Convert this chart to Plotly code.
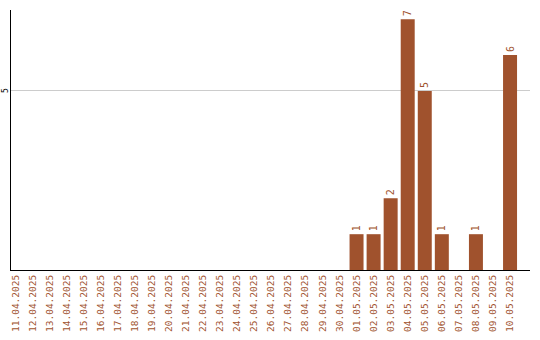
import plotly.graph_objects as go

dates = ["11.04.2025", "12.04.2025", "13.04.2025", "14.04.2025", "15.04.2025",
         "16.04.2025", "17.04.2025", "18.04.2025", "19.04.2025", "20.04.2025",
         "21.04.2025", "22.04.2025", "23.04.2025", "24.04.2025", "25.04.2025",
         "26.04.2025", "27.04.2025", "28.04.2025", "29.04.2025", "30.04.2025",
         "01.05.2025", "02.05.2025", "03.05.2025", "04.05.2025", "05.05.2025",
         "06.05.2025", "07.05.2025", "08.05.2025", "09.05.2025", "10.05.2025"]
counts = [0, 0, 0, 0, 0, 0, 0, 0, 0, 0,
          0, 0, 0, 0, 0, 0, 0, 0, 0, 0,
          1, 1, 2, 7, 5, 1, 0, 1, 0, 6]
y_ticks = [5]

labels = [str(v) if v > 0 else "" for v in counts]
color = "#A0522D"
font = "DejaVu Sans Mono"

fig = go.Figure(go.Bar(
    x=dates, y=counts, text=labels, textposition="outside", textangle=-90,
    textfont=dict(family=font, size=10, color=color),
    marker=dict(color=color, line=dict(width=0)), cliponaxis=False,
))

fig.update_layout(
    width=540, height=340,
    margin=dict(l=11, r=10, t=10, b=70, autoexpand=False),
    paper_bgcolor="white", plot_bgcolor="white",
    bargap=0.18, showlegend=False,
    font=dict(family=font),
)
fig.update_xaxes(
    type="category", range=[-0.26, 30.17], tickangle=-90, automargin=False,
    tickfont=dict(family=font, size=9.5, color=color),
    showline=True, linecolor="black", linewidth=1, showgrid=False,
    ticks="", ticklen=0,
)
fig.update_yaxes(
    range=[0, 7.26], tickvals=y_ticks, showticklabels=False, automargin=False,
    showline=True, linecolor="black", linewidth=1,
    showgrid=True, gridcolor="#cccccc", gridwidth=1, zeroline=False,
    ticks="", ticklen=0,
)
for t in y_ticks:
    fig.add_annotation(
        x=-5 / 519, xref="paper", y=t, yref="y", text=str(t), showarrow=False,
        textangle=-90, xanchor="center", yanchor="middle", borderpad=0,
        font=dict(family=font, size=8, color="black"),
    )

fig.write_html("out.html")
